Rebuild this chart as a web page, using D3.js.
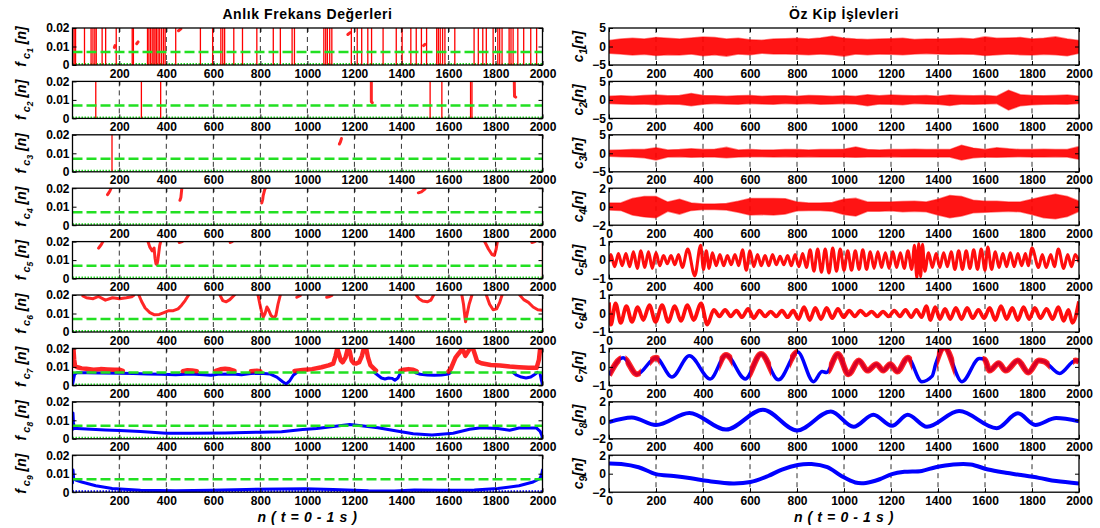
<!DOCTYPE html>
<html>
<head>
<meta charset="utf-8">
<script src="https://cdn.jsdelivr.net/npm/d3@7"></script>
<style>
  body { margin: 0; background: #fff; }
  svg { display: block; }
  text { font-family: "Liberation Sans", Arial, Helvetica, sans-serif; font-weight: bold; }
</style>
</head>
<body>
<svg id="chart" width="1100" height="528"></svg>
<script>
// ---------- axis ticks ----------
const nTicksLeft  = [200, 400, 600, 800, 1000, 1200, 1400, 1600, 1800, 2000];
const nTicksRight = [0, 200, 400, 600, 800, 1000, 1200, 1400, 1600, 1800, 2000];
const gridTicks   = [200, 400, 600, 800, 1000, 1200, 1400, 1600, 1800];
const fTicks      = [0, 0.01, 0.02];
const fTickLabels = ["0", "0.01", "0.02"];
const imfTicks = [[-5, 0, 5], [-5, 0, 5], [-5, 0, 5], [-2, 0, 2], [-1, 0, 1], [-1, 0, 1], [-1, 0, 1], [-2, 0, 2], [-2, 0, 2]];
const threshold = 0.007;

// ---------- instantaneous frequency, f_ci[n] ----------
// sample positions where the frequency jumps out of range (drawn as full-height strokes)
const fcJumps = [
  [2, 8, 14, 52, 80, 88, 96, 102, 127, 142, 187, 255, 260, 320, 326, 333, 340, 347, 352, 358, 365, 372, 380, 388, 395,
   440, 545, 597, 632, 640, 648, 687, 724, 785, 855, 885, 935, 945, 1070, 1078, 1085, 1095, 1104, 1187, 1212, 1231,
   1257, 1273, 1322, 1378, 1403, 1440, 1463, 1485, 1507, 1550, 1557, 1565, 1575, 1585, 1627, 1709, 1727, 1746, 1761,
   1790, 1810, 1818, 1828, 1858, 1866, 1875, 1895, 1920, 1950, 1975],
  [100, 294, 376, 1522, 1572, 1694, 1700],
  [169],
  [],
  [2000],
  [], [], [], []
];
// above-threshold traces (red)
const fcRed = [
  [ [[179, 0.0095], [182, 0.0105]], [[274, 0.0115], [280, 0.0125]], [[452, 0.0185], [462, 0.0195]],
    [[1172, 0.0165], [1182, 0.0175]], [[1494, 0.0105], [1500, 0.0112]] ],
  [ [[1272, 0.02], [1272, 0.009], [1276, 0.0085]], [[1880, 0.02], [1881, 0.012], [1886, 0.0115]] ],
  [ [[1136, 0.015], [1140, 0.016], [1145, 0.018]] ],
  [ [[150, 0.0165], [155, 0.0175], [160, 0.0185], [165, 0.02]],
    [[458, 0.0135], [462, 0.015], [464, 0.0175], [466, 0.02]],
    [[806, 0.012], [810, 0.014], [812, 0.016], [815, 0.0175], [818, 0.019], [821, 0.02]],
    [[1472, 0.0175], [1485, 0.018], [1500, 0.0195]] ],
  [ [[112, 0.0165], [118, 0.0175], [124, 0.0185], [130, 0.02]],
    [[322, 0.02], [330, 0.017], [340, 0.015], [348, 0.0165], [352, 0.011], [356, 0.008], [360, 0.0075], [364, 0.01], [368, 0.014], [372, 0.018], [376, 0.02]],
    [[455, 0.0195], [468, 0.02]],
    [[672, 0.0195], [680, 0.02]],
    [[1754, 0.02], [1770, 0.016], [1785, 0.013], [1795, 0.0125], [1803, 0.016], [1808, 0.02]],
    [[1955, 0.0195], [1968, 0.02]] ],
  [ [[45, 0.0195], [60, 0.0185], [89, 0.018], [112, 0.0192], [141, 0.0172], [171, 0.0185], [201, 0.018], [230, 0.0185], [253, 0.019], [262, 0.0198]],
    [[283, 0.02], [295, 0.0165], [310, 0.013], [330, 0.0105], [350, 0.0093], [370, 0.0095], [390, 0.0105], [410, 0.0115], [430, 0.0115], [450, 0.0125], [465, 0.0145], [480, 0.017], [495, 0.02]],
    [[628, 0.02], [640, 0.017], [655, 0.0163], [670, 0.0175], [690, 0.02]],
    [[790, 0.02], [798, 0.015], [805, 0.011], [812, 0.008], [820, 0.01], [828, 0.0135], [835, 0.012], [845, 0.009], [858, 0.0075], [866, 0.009], [875, 0.015], [885, 0.02]],
    [[955, 0.0188], [970, 0.0198]],
    [[1082, 0.0188], [1095, 0.0192], [1104, 0.0198]],
    [[1463, 0.02], [1475, 0.018], [1490, 0.0168], [1510, 0.0163], [1525, 0.0172], [1537, 0.02]],
    [[1657, 0.02], [1664, 0.015], [1670, 0.008], [1673, 0.0055], [1678, 0.009], [1688, 0.015], [1700, 0.02]],
    [[1761, 0.02], [1775, 0.015], [1790, 0.012], [1805, 0.0125], [1818, 0.016], [1828, 0.02]],
    [[1903, 0.02], [1920, 0.0175], [1940, 0.016], [1960, 0.0135], [1980, 0.012], [2000, 0.0118]] ],
  [ [[5, 0.02], [8, 0.014], [12, 0.0105], [22, 0.0098], [40, 0.0092], [60, 0.009], [90, 0.0085], [120, 0.0088], [150, 0.0086], [180, 0.0084], [200, 0.0085], [215, 0.0078]],
    [[470, 0.0077], [490, 0.0082], [510, 0.008], [530, 0.0077]],
    [[610, 0.0078], [630, 0.0087], [650, 0.009], [670, 0.0087], [690, 0.0078]],
    [[760, 0.0076], [785, 0.0079], [800, 0.0076]],
    [[945, 0.0078], [980, 0.0083], [1020, 0.0088], [1060, 0.0098], [1090, 0.0108], [1110, 0.0118], [1120, 0.016], [1127, 0.02], [1134, 0.017],
     [1142, 0.0135], [1150, 0.0125], [1162, 0.015], [1172, 0.02], [1180, 0.0185], [1188, 0.0135], [1198, 0.012], [1208, 0.0118], [1220, 0.0125],
     [1232, 0.016], [1240, 0.02], [1250, 0.02], [1258, 0.015], [1268, 0.011], [1280, 0.0095], [1292, 0.008]],
    [[1395, 0.0078], [1410, 0.0085], [1430, 0.0088], [1450, 0.0085], [1465, 0.0076]],
    [[1600, 0.0075], [1610, 0.009], [1620, 0.012], [1630, 0.015], [1642, 0.017], [1655, 0.019], [1664, 0.0185], [1672, 0.016], [1682, 0.018],
     [1692, 0.02], [1704, 0.02], [1712, 0.017], [1722, 0.013], [1740, 0.012], [1780, 0.011], [1820, 0.0108], [1860, 0.0102], [1900, 0.0098],
     [1940, 0.0095], [1975, 0.0095], [1985, 0.014], [1990, 0.02], [1995, 0.019]] ],
  [], []
];
// below-threshold traces (blue)
const fcBlue = [
  [], [], [], [], [], [],
  [ [[2, 0.001], [5, 0.003], [10, 0.006], [20, 0.0068], [60, 0.0068], [120, 0.0067], [200, 0.0066], [260, 0.0064], [320, 0.0062], [380, 0.006],
     [440, 0.0058], [500, 0.0062], [560, 0.0058], [590, 0.0055], [620, 0.006], [680, 0.0062], [720, 0.0058], [760, 0.0064], [800, 0.0066],
     [840, 0.0062], [870, 0.0045], [895, 0.002], [910, 0.0008], [925, 0.0025], [940, 0.0055], [955, 0.007]],
    [[1285, 0.007], [1300, 0.0055], [1315, 0.004], [1330, 0.0035], [1345, 0.004], [1360, 0.0038], [1372, 0.0028], [1385, 0.004], [1395, 0.0065]],
    [[1460, 0.0068], [1480, 0.006], [1510, 0.0056], [1540, 0.0055], [1570, 0.0056], [1600, 0.0062], [1610, 0.007]],
    [[1875, 0.007], [1890, 0.0055], [1910, 0.0045], [1930, 0.004], [1950, 0.0045], [1965, 0.0058], [1978, 0.007]],
    [[1990, 0.006], [1995, 0.003], [2000, 0.0005]] ],
  [ [[1, 0.005], [3, 0.014], [5, 0.009], [8, 0.0055], [20, 0.0056], [80, 0.0052], [140, 0.0048], [200, 0.0045], [290, 0.004], [400, 0.003],
     [500, 0.003], [650, 0.0032], [800, 0.0036], [890, 0.0038], [980, 0.005], [1040, 0.0056], [1110, 0.0066], [1180, 0.0077], [1230, 0.007],
     [1300, 0.006], [1380, 0.0042], [1450, 0.0027], [1530, 0.0021], [1620, 0.003], [1690, 0.0052], [1740, 0.006], [1810, 0.0056],
     [1860, 0.0046], [1900, 0.0058], [1975, 0.0058], [1990, 0.004], [1998, 0.0015], [2000, 0]] ],
  [ [[1, 0.005], [3, 0.012], [6, 0.0075], [15, 0.0065], [40, 0.0055], [100, 0.0035], [170, 0.002], [290, 0.001], [440, 0.0008], [590, 0.001],
     [740, 0.0015], [890, 0.0017], [990, 0.0018], [1110, 0.0015], [1260, 0.0008], [1370, 0.0006], [1455, 0.0012], [1560, 0.001], [1710, 0.0012],
     [1810, 0.002], [1900, 0.0035], [1960, 0.0055], [1990, 0.0075], [1997, 0.01], [2000, 0.012]] ]
];

// ---------- intrinsic mode functions, c_i[n] ----------
// c1..c4: upper / lower envelope of the dense oscillation, every 50 samples
const envN = [0, 50, 100, 150, 200, 250, 300, 350, 400, 450, 500, 550, 600, 650, 700, 750, 800, 850, 900, 950, 1000,
              1050, 1100, 1150, 1200, 1250, 1300, 1350, 1400, 1450, 1500, 1550, 1600, 1650, 1700, 1750, 1800, 1850, 1900, 1950, 2000];
const c1Upper = [1.6, 2.0, 2.2, 2.0, 2.4, 2.2, 2.0, 2.3, 2.6, 2.4, 2.0, 2.2, 1.8, 1.7, 2.0, 2.1, 2.2, 2.0, 2.3, 2.8, 2.2,
                 2.0, 1.9, 2.0, 2.1, 2.2, 1.9, 2.0, 2.0, 2.1, 2.2, 2.0, 2.6, 2.2, 2.3, 2.4, 2.0, 2.2, 2.6, 2.0, 1.6];
const c1Lower = [-1.8, -2.0, -2.3, -2.1, -2.4, -2.2, -2.3, -2.0, -2.5, -2.2, -2.6, -2.0, -2.2, -1.8, -2.0, -2.0, -2.1, -2.2, -2.0, -2.2, -2.6,
                 -2.0, -2.2, -2.0, -2.1, -2.2, -2.0, -1.9, -2.0, -2.1, -2.0, -2.1, -2.4, -2.2, -2.0, -2.2, -2.3, -2.1, -2.2, -2.5, -1.8];
const c2Upper = [1.0, 1.1, 1.0, 1.2, 1.3, 1.1, 1.2, 1.7, 1.2, 1.1, 1.0, 1.1, 1.2, 1.0, 1.1, 1.1, 1.0, 1.2, 1.1, 1.0, 1.1,
                 1.0, 1.4, 1.1, 1.3, 1.2, 1.1, 1.2, 1.0, 1.3, 1.2, 1.1, 1.2, 1.0, 2.6, 1.4, 1.2, 1.1, 1.2, 1.3, 1.0];
const c2Lower = [-1.0, -1.1, -1.2, -1.1, -1.3, -1.1, -1.2, -1.6, -1.2, -1.0, -1.1, -1.2, -1.0, -1.1, -1.2, -1.0, -1.1, -1.0, -1.2, -1.1, -1.0,
                 -1.1, -1.6, -1.1, -1.2, -1.3, -1.0, -1.1, -1.2, -1.5, -1.1, -1.2, -1.1, -1.0, -2.7, -1.6, -1.3, -1.2, -1.1, -1.2, -1.0];
const c3Upper = [0.8, 0.9, 1.0, 1.0, 1.5, 0.9, 1.0, 1.2, 1.0, 1.1, 1.6, 0.9, 1.0, 0.9, 0.9, 1.0, 1.0, 0.9, 1.0, 1.0, 1.1,
                 1.7, 1.0, 0.9, 1.0, 1.0, 1.1, 1.0, 1.0, 1.0, 2.2, 1.4, 1.0, 1.5, 1.2, 1.0, 1.0, 1.1, 1.0, 1.0, 1.8];
const c3Lower = [-0.8, -0.9, -1.0, -1.2, -1.8, -1.0, -0.9, -1.1, -1.0, -1.0, -1.2, -1.0, -0.9, -0.9, -1.0, -0.9, -1.0, -0.9, -1.0, -1.0, -1.0,
                 -1.1, -1.0, -1.0, -0.9, -1.0, -1.0, -1.0, -1.0, -1.0, -1.8, -1.2, -1.0, -1.1, -1.0, -0.9, -1.0, -1.0, -0.9, -1.0, -1.6];
const c4Upper = [0.4, 0.4, 0.9, 1.1, 1.1, 0.5, 0.8, 0.4, 0.3, 0.3, 0.35, 0.6, 0.9, 0.9, 0.9, 0.85, 0.5, 0.4, 0.4, 0.45, 0.8,
                 0.9, 0.5, 0.5, 0.5, 0.55, 0.6, 0.5, 0.8, 1.2, 1.1, 0.7, 0.6, 0.6, 0.5, 0.5, 0.8, 1.1, 1.35, 1.1, 0.6];
const c4Lower = [-0.35, -0.4, -0.9, -1.1, -1.2, -0.5, -0.8, -0.4, -0.3, -0.3, -0.35, -0.6, -0.9, -0.85, -0.9, -0.8, -0.45, -0.4, -0.4, -0.5, -0.85,
                 -1.0, -0.5, -0.5, -0.45, -0.55, -0.5, -0.55, -0.9, -1.2, -1.0, -0.65, -0.6, -0.55, -0.5, -0.55, -0.85, -1.2, -1.3, -1.05, -0.5];

// c5..c9: turning points [n, value]
const c5Ext = [[0, -0.1], [8, 0.3], [24, -0.35], [40, 0.35], [56, -0.3], [72, 0.35], [88, -0.35], [104, 0.45], [120, -0.45], [136, 0.5],
  [152, -0.4], [168, 0.45], [184, -0.45], [200, 0.4], [216, -0.3], [232, 0.25], [248, -0.2], [264, 0.25], [280, -0.25], [296, 0.3],
  [312, -0.4], [335, 0.6], [365, -0.85], [390, 0.8], [402, -0.5], [414, 0.5], [426, -0.45], [440, 0.4], [456, -0.3], [472, 0.3],
  [488, -0.3], [504, 0.25], [520, -0.25], [536, 0.3], [552, -0.3], [568, 0.55], [584, -0.55], [600, 0.5], [616, -0.35], [632, 0.3],
  [648, -0.3], [664, 0.25], [680, -0.3], [696, 0.3], [712, -0.25], [728, 0.2], [744, -0.25], [760, 0.25], [776, -0.3], [792, 0.3],
  [808, -0.35], [824, 0.35], [840, -0.4], [856, 0.55], [872, -0.6], [888, 0.6], [904, -0.65], [920, 0.6], [936, -0.7], [952, 0.65],
  [968, -0.6], [984, 0.6], [1000, -0.55], [1016, 0.5], [1032, -0.55], [1048, 0.5], [1064, -0.5], [1080, 0.55], [1096, -0.5], [1112, 0.45],
  [1128, -0.45], [1144, 0.45], [1160, -0.4], [1176, 0.4], [1192, -0.45], [1208, 0.45], [1224, -0.4], [1240, 0.4], [1256, -0.45], [1272, 0.5],
  [1288, -0.5], [1300, 0.8], [1310, -0.95], [1318, 0.9], [1326, -0.9], [1334, 0.85], [1344, -0.6], [1360, 0.4], [1376, -0.4], [1392, 0.35],
  [1408, -0.4], [1424, 0.4], [1440, -0.35], [1456, 0.45], [1472, -0.5], [1488, 0.5], [1504, -0.5], [1520, 0.5], [1536, -0.45], [1552, 0.55],
  [1568, -0.5], [1584, 0.6], [1600, -0.55], [1612, 0.7], [1628, -0.5], [1644, 0.45], [1660, -0.4], [1676, 0.35], [1692, -0.35], [1708, 0.4],
  [1724, -0.35], [1740, 0.35], [1756, -0.3], [1772, 0.35], [1784, -0.3], [1800, 0.65], [1828, -0.4], [1844, 0.3], [1860, -0.4], [1880, 0.3],
  [1895, -0.35], [1912, 0.6], [1935, -0.45], [1952, 0.3], [1968, -0.35], [1984, 0.3], [2000, -0.1]];
const c6Ext = [[0, 0.6], [8, -0.6], [28, 0.55], [50, -0.5], [74, 0.4], [98, -0.45], [122, 0.35], [146, -0.35], [172, 0.45], [198, -0.45],
  [226, 0.45], [252, -0.45], [280, 0.4], [306, -0.4], [334, 0.45], [360, -0.35], [392, 0.55], [418, -0.6], [446, 0.2], [470, -0.15],
  [494, 0.2], [518, -0.15], [542, 0.15], [566, -0.2], [592, 0.25], [616, -0.25], [640, 0.15], [664, -0.15], [688, 0.1], [712, -0.15],
  [736, 0.15], [760, -0.2], [784, 0.15], [806, -0.3], [830, 0.35], [854, -0.35], [878, 0.3], [902, -0.3], [926, 0.3], [950, -0.25],
  [974, 0.25], [998, -0.2], [1022, 0.15], [1046, -0.15], [1070, 0.15], [1094, -0.1], [1118, 0.1], [1142, -0.15], [1166, 0.1], [1190, -0.15],
  [1214, 0.15], [1238, -0.15], [1262, 0.2], [1286, -0.2], [1308, 0.2], [1330, -0.2], [1350, 0.4], [1368, -0.35], [1388, 0.35], [1408, -0.3],
  [1430, 0.25], [1452, -0.3], [1476, 0.3], [1500, -0.3], [1524, 0.3], [1548, -0.25], [1572, 0.2], [1596, -0.25], [1620, 0.3], [1644, -0.35],
  [1668, 0.4], [1692, -0.3], [1716, 0.3], [1740, -0.35], [1764, 0.35], [1788, -0.3], [1812, 0.3], [1836, -0.25], [1862, 0.25], [1888, -0.3],
  [1912, 0.35], [1935, -0.4], [1955, 0.2], [1972, -0.5], [2000, 0.65]];
const c7Ext = [[0, -0.45], [60, 0.5], [119, -0.4], [200, 0.5], [268, -0.55], [342, 0.6], [431, -0.65], [498, 0.65], [580, -0.65], [647, 0.7],
  [721, -0.7], [803, 0.8], [870, -0.8], [907, -0.25], [925, -0.3], [974, 0.7], [1019, -0.4], [1063, 0.35], [1100, -0.2], [1138, 0.15],
  [1167, -0.2], [1197, 0.15], [1227, -0.25], [1271, 0.5], [1331, -0.8], [1375, -0.5], [1390, 0.15], [1427, 1.05], [1502, -0.8], [1576, 0.45],
  [1599, 0.4], [1620, -0.2], [1658, 0.2], [1688, -0.2], [1740, 0.35], [1784, -0.3], [1829, 0.35], [1851, 0.3], [1918, -0.35], [1985, 0.35],
  [2000, 0.3]];
// stretches of c7 whose instantaneous frequency lies above the threshold
const c7RedSpans = [[5, 50], [70, 135], [175, 215], [470, 525], [600, 690], [770, 800], [935, 1290], [1395, 1470], [1590, 1875], [1975, 2000]];
const c8Ext = [[0, -0.2], [97, 0.3], [200, -0.5], [342, 0.8], [498, -1.0], [655, 1.15], [800, -1.1], [944, 0.95], [1041, -0.7], [1125, 0.6],
  [1204, -0.6], [1271, 0.6], [1353, -0.7], [1490, 1.0], [1650, -0.85], [1740, 0.75], [1814, -0.5], [1903, 0.25], [2000, -0.1]];
const c9Pts = [[0, 1.1], [52, 1.05], [126, 0.7], [200, -0.05], [275, -0.25], [349, -0.5], [424, -0.8], [528, -1.05], [602, -0.9], [677, -0.25],
  [736, 0.45], [803, 0.95], [862, 1.05], [929, 0.7], [989, -0.25], [1048, -0.95], [1093, -1.0], [1152, -0.6], [1204, -0.05], [1257, 0.2],
  [1331, 0.3], [1390, 0.7], [1465, 1.0], [1539, 1.0], [1613, 0.45], [1688, 0.1], [1754, -0.15], [1829, -0.45], [1903, -0.8], [2000, -1.05]];

// ---------- layout ----------
const RED = "#ff0000", BLUE = "#0000ff", GREEN = "#22e022";
const svg = d3.select("#chart");
const defs = svg.append("defs");
const xL = d3.scaleLinear().domain([1, 2000]).range([72.5, 542.5]);
const xR = d3.scaleLinear().domain([0, 2000]).range([609, 1079]);
const ROW_H = 37;
const rowTop = i => 28 + i * 53.4;
const FONT = '"Liberation Sans", Arial, Helvetica, sans-serif';

function makeAxes(i, side) {
  const x = side === "L" ? xL : xR;
  const top = rowTop(i), bottom = top + ROW_H;
  const dom = side === "L" ? [0, 0.02] : [imfTicks[i][0], imfTicks[i][2]];
  const y = d3.scaleLinear().domain(dom).range([bottom, top]);
  const [x0, x1] = x.range();
  const id = "clip-" + side + i;
  defs.append("clipPath").attr("id", id).append("rect")
    .attr("x", x0).attr("y", top).attr("width", x1 - x0).attr("height", ROW_H);
  const g = svg.append("g");
  g.append("g").selectAll("line").data(gridTicks).join("line")
    .attr("x1", d => x(d)).attr("x2", d => x(d)).attr("y1", top).attr("y2", bottom)
    .attr("stroke", "#333").attr("stroke-width", 1).attr("stroke-dasharray", "5,4");
  const plot = g.append("g").attr("clip-path", "url(#" + id + ")");
  return { g, plot, x, y, top, bottom, x0, x1 };
}

function styleAxis(sel) {
  sel.attr("font-size", 12).attr("font-family", FONT).attr("font-weight", "bold");
  sel.select(".domain").remove();
  sel.selectAll(".tick line").attr("stroke", "#000");
  sel.selectAll(".tick text").attr("fill", "#000");
}

function finishAxes(a, side, i) {
  const { g, x, y, top, bottom, x0, x1 } = a;
  g.append("rect").attr("x", x0).attr("y", top).attr("width", x1 - x0).attr("height", ROW_H)
    .attr("fill", "none").attr("stroke", "#000").attr("stroke-width", 1.3);
  const xt = side === "L" ? nTicksLeft : nTicksRight;
  const yt = side === "L" ? fTicks : imfTicks[i];
  const yFmt = side === "L" ? (d => fTickLabels[fTicks.indexOf(d)]) : d3.format("d");
  g.append("g").attr("transform", `translate(0,${bottom})`)
    .call(d3.axisBottom(x).tickValues(xt).tickSizeInner(-4).tickSizeOuter(0).tickPadding(4).tickFormat(d3.format("d")))
    .call(styleAxis);
  g.append("g").attr("transform", `translate(0,${top})`)
    .call(d3.axisTop(x).tickValues(xt).tickSizeInner(-4).tickSizeOuter(0).tickFormat(""))
    .call(styleAxis);
  g.append("g").attr("transform", `translate(${x0},0)`)
    .call(d3.axisLeft(y).tickValues(yt).tickSizeInner(-4).tickSizeOuter(0).tickPadding(3).tickFormat(yFmt))
    .call(styleAxis);
  g.append("g").attr("transform", `translate(${x1},0)`)
    .call(d3.axisRight(y).tickValues(yt).tickSizeInner(-4).tickSizeOuter(0).tickFormat(""))
    .call(styleAxis);
}

// ---------- left column: instantaneous frequencies ----------
for (let i = 0; i < 9; i++) {
  const a = makeAxes(i, "L");
  const { plot, x, y } = a;
  const line = d3.line().x(d => x(d[0])).y(d => y(d[1]));

  // zero baseline
  plot.append("line").attr("x1", a.x0).attr("x2", a.x1).attr("y1", y(0) - 1).attr("y2", y(0) - 1)
    .attr("stroke", i === 8 ? BLUE : GREEN).attr("stroke-width", 2).attr("stroke-dasharray", "1.5,1.5");

  plot.append("g").selectAll("line").data(fcJumps[i]).join("line")
    .attr("x1", d => x(d)).attr("x2", d => x(d)).attr("y1", y(0)).attr("y2", y(0.02) - 2)
    .attr("stroke", RED).attr("stroke-width", 1.3);

  plot.append("g").selectAll("path").data(fcBlue[i]).join("path")
    .attr("d", line).attr("fill", "none").attr("stroke", BLUE)
    .attr("stroke-width", 3).attr("stroke-linejoin", "round").attr("stroke-linecap", "round");

  plot.append("g").selectAll("path").data(fcRed[i]).join("path")
    .attr("d", line).attr("fill", "none").attr("stroke", RED).attr("stroke-opacity", 0.85)
    .attr("stroke-width", i === 6 ? 4.5 : 3).attr("stroke-linejoin", "round").attr("stroke-linecap", "round");

  plot.append("line").attr("x1", a.x0).attr("x2", a.x1).attr("y1", y(threshold)).attr("y2", y(threshold))
    .attr("stroke", GREEN).attr("stroke-width", 2.5).attr("stroke-dasharray", "10,4");

  finishAxes(a, "L", i);
}

// ---------- right column: intrinsic mode functions ----------
const envelopes = [[c1Upper, c1Lower], [c2Upper, c2Lower], [c3Upper, c3Lower], [c4Upper, c4Lower]];
for (let i = 0; i < 9; i++) {
  const a = makeAxes(i, "R");
  const { plot, x, y } = a;
  const curve = d3.line().x(d => x(d[0])).y(d => y(d[1])).curve(d3.curveMonotoneX);

  if (i < 4) {
    const [up, lo] = envelopes[i];
    const band = envN.map((n, k) => ({ n, hi: up[k], lo: lo[k] }));
    plot.append("path").datum(band)
      .attr("d", d3.area().x(d => x(d.n)).y0(d => y(d.lo)).y1(d => y(d.hi)))
      .attr("fill", RED).attr("fill-opacity", 0.92)
      .attr("stroke", RED).attr("stroke-opacity", 0.5).attr("stroke-width", 1.5);
  } else if (i === 4) {
    plot.append("path").datum(c5Ext).attr("d", curve)
      .attr("fill", "none").attr("stroke", RED).attr("stroke-width", 3.1).attr("stroke-opacity", 0.95);
  } else if (i === 5) {
    plot.append("path").datum(c6Ext).attr("d", curve)
      .attr("fill", "none").attr("stroke", RED).attr("stroke-width", 3.8).attr("stroke-opacity", 0.95);
  } else if (i === 6) {
    plot.append("path").datum(c7Ext).attr("d", curve)
      .attr("fill", "none").attr("stroke", BLUE).attr("stroke-width", 3.5);
    const spanClip = defs.append("clipPath").attr("id", "c7-red-spans");
    spanClip.selectAll("rect").data(c7RedSpans).join("rect")
      .attr("x", d => x(d[0])).attr("width", d => x(d[1]) - x(d[0]))
      .attr("y", a.top).attr("height", ROW_H);
    plot.append("g").attr("clip-path", "url(#c7-red-spans)")
      .append("path").datum(c7Ext).attr("d", curve)
      .attr("fill", "none").attr("stroke", RED).attr("stroke-width", 6).attr("stroke-opacity", 0.85);
  } else if (i === 7) {
    plot.append("path").datum(c8Ext).attr("d", curve)
      .attr("fill", "none").attr("stroke", BLUE).attr("stroke-width", 4);
  } else {
    plot.append("path").datum(c9Pts).attr("d", curve.curve(d3.curveCatmullRom))
      .attr("fill", "none").attr("stroke", BLUE).attr("stroke-width", 4);
  }
  finishAxes(a, "R", i);
}

// ---------- y labels ----------
for (let i = 0; i < 9; i++) {
  const yc = rowTop(i) + ROW_H / 2;
  const tl = svg.append("text")
    .attr("transform", `translate(26,${yc}) rotate(-90)`)
    .attr("text-anchor", "middle").attr("font-style", "italic").attr("font-size", 14);
  tl.append("tspan").text("f");
  tl.append("tspan").attr("dy", 4).attr("font-size", 11).text(" c");
  tl.append("tspan").attr("dy", 3).attr("font-size", 8.5).text(String(i + 1));
  tl.append("tspan").attr("dy", -7).text(" [n]");

  const tr = svg.append("text")
    .attr("transform", `translate(583,${yc}) rotate(-90)`)
    .attr("text-anchor", "middle").attr("font-style", "italic").attr("font-size", 14);
  tr.append("tspan").text("c");
  tr.append("tspan").attr("dy", 4).attr("font-size", 10).text(String(i + 1));
  tr.append("tspan").attr("dy", -4).text("[n]");
}

// ---------- titles and x labels ----------
svg.append("text").attr("x", (xL.range()[0] + xL.range()[1]) / 2).attr("y", 19)
  .attr("text-anchor", "middle").attr("font-size", 14).attr("letter-spacing", 0.6).text("Anlık Frekans Değerleri");
svg.append("text").attr("x", (xR.range()[0] + xR.range()[1]) / 2).attr("y", 19)
  .attr("text-anchor", "middle").attr("font-size", 14).attr("letter-spacing", 0.6).text("Öz Kip İşlevleri");
[xL, xR].forEach(x => {
  svg.append("text").attr("x", (x.range()[0] + x.range()[1]) / 2).attr("y", 522)
    .attr("text-anchor", "middle").attr("font-size", 14).attr("font-style", "italic").attr("letter-spacing", 0.6)
    .text("n ( t = 0 - 1 s )");
});
</script>
</body>
</html>
